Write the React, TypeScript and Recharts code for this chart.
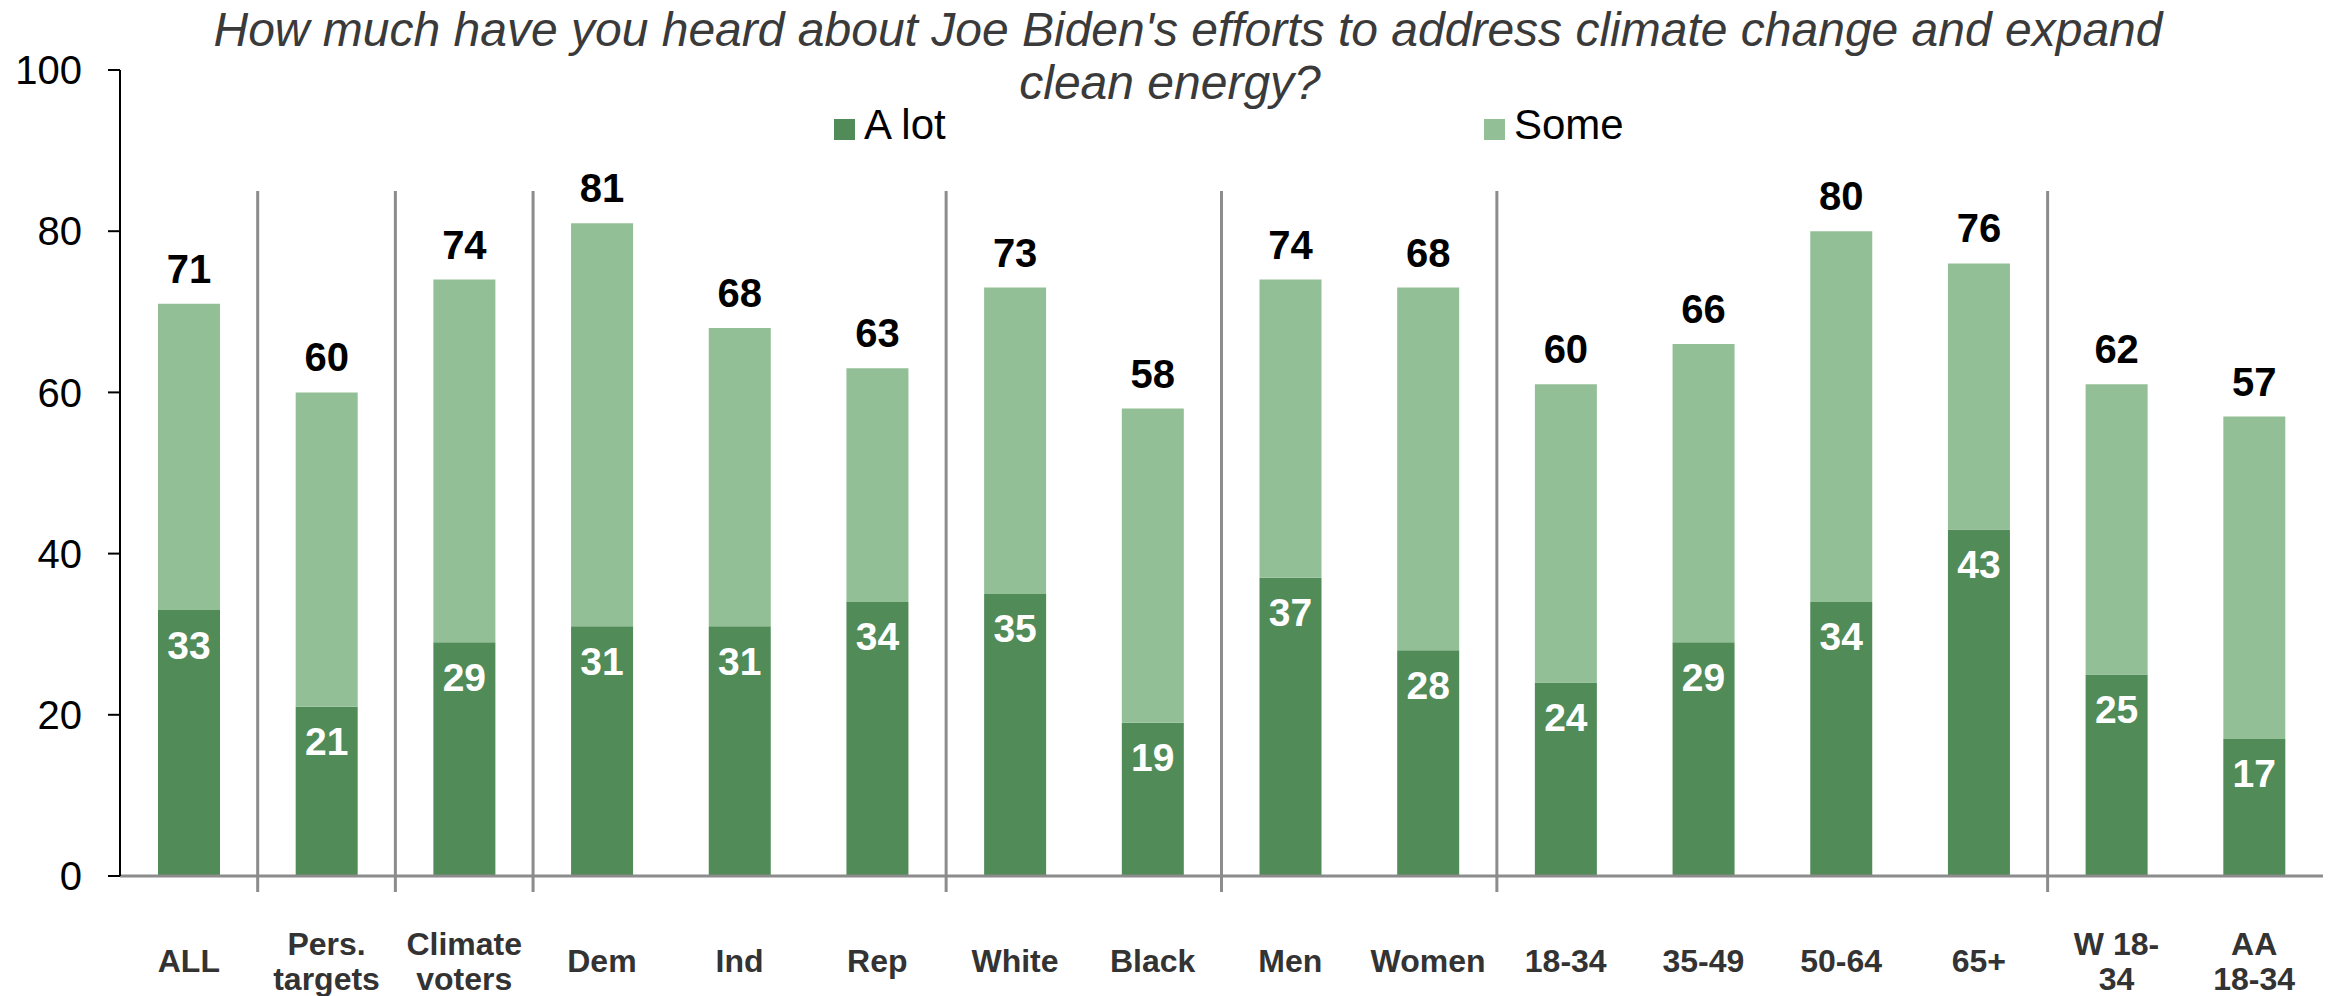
import React from "react";
import {
  BarChart,
  Bar,
  XAxis,
  YAxis,
  ReferenceLine,
  LabelList,
  Legend,
} from "recharts";

const FONT = "'Liberation Sans', Arial, sans-serif";
const DARK = "#518b58";
const LIGHT = "#93bf96";
const SEP = "#8c8c8c";

const groups = [
  "ALL",
  "Pers.\ntargets",
  "Climate\nvoters",
  "Dem",
  "Ind",
  "Rep",
  "White",
  "Black",
  "Men",
  "Women",
  "18-34",
  "35-49",
  "50-64",
  "65+",
  "W 18-\n34",
  "AA\n18-34",
];
const aLot = [33, 21, 29, 31, 31, 34, 35, 19, 37, 28, 24, 29, 34, 43, 25, 17];
const some = [38, 39, 45, 50, 37, 29, 38, 39, 37, 45, 37, 37, 46, 33, 36, 40];
const totals = [71, 60, 74, 81, 68, 63, 73, 58, 74, 68, 60, 66, 80, 76, 62, 57];
// a grey divider is drawn just before each of these groups
const dividerBefore = [1, 2, 3, 6, 8, 10, 14];
const yTicks = [0, 20, 40, 60, 80, 100];
const legendItems = [
  { label: "A lot", color: DARK },
  { label: "Some", color: LIGHT },
];

const data = groups.map((g, i) => ({
  group: g,
  aLot: aLot[i],
  some: some[i],
  total: totals[i],
}));

function GroupTick({ x, y, payload }: any) {
  const lines = String(payload.value).split("\n");
  const lh = 35;
  const first = 96 - ((lines.length - 1) * lh) / 2;
  return (
    <text
      textAnchor="middle"
      fill="#333"
      fontSize={32}
      fontWeight="bold"
      fontFamily={FONT}
    >
      {lines.map((l, i) => (
        <tspan key={i} x={x} y={y + first + i * lh}>
          {l}
        </tspan>
      ))}
    </text>
  );
}

function InsideLabel({ x, y, width, value }: any) {
  return (
    <text
      x={x + width / 2}
      y={y + 35}
      textAnchor="middle"
      dominantBaseline="central"
      fill="#fff"
      fontSize={39}
      fontWeight="bold"
      fontFamily={FONT}
    >
      {value}
    </text>
  );
}

function TotalLabel({ x, y, width, value }: any) {
  return (
    <text
      x={x + width / 2}
      y={y - 21}
      textAnchor="middle"
      fill="#000"
      fontSize={40}
      fontWeight="bold"
      fontFamily={FONT}
    >
      {value}
    </text>
  );
}

function LegendBox() {
  return (
    <div style={{ display: "flex", fontFamily: FONT }}>
      {legendItems.map((it) => (
        <div
          key={it.label}
          style={{ width: 650, display: "flex", alignItems: "center" }}
        >
          <span
            style={{
              width: 21,
              height: 21,
              background: it.color,
              marginRight: 9,
              marginTop: 9,
            }}
          />
          <span style={{ fontSize: 42, color: "#000" }}>{it.label}</span>
        </div>
      ))}
    </div>
  );
}

export default function App() {
  return (
    <div
      style={{
        position: "absolute",
        left: 0,
        top: 0,
        width: 2343,
        height: 996,
        background: "#fff",
      }}
    >
      <div
        style={{
          position: "absolute",
          left: 0,
          top: 3,
          width: 2376,
          textAlign: "center",
          fontFamily: FONT,
          fontStyle: "italic",
          fontSize: 48,
          lineHeight: "53px",
          color: "#3a3a3a",
          zIndex: 2,
          pointerEvents: "none",
        }}
      >
        <div>
          How much have you heard about Joe Biden's efforts to address climate
          change and expand
        </div>
        <div style={{ paddingRight: 36 }}>clean energy?</div>
      </div>
      <BarChart
        width={2343}
        height={996}
        data={data}
        margin={{ top: 70, right: 20, bottom: 0, left: 0 }}
      >
        <XAxis
          dataKey="group"
          interval={0}
          height={120}
          tickLine={false}
          tickSize={0}
          tickMargin={0}
          axisLine={{ stroke: SEP, strokeWidth: 3 }}
          tick={<GroupTick />}
        />
        <YAxis
          width={120}
          domain={[0, 100]}
          ticks={yTicks}
          interval={0}
          tickSize={12}
          tickMargin={26}
          axisLine={{ stroke: "#000", strokeWidth: 2 }}
          tickLine={{ stroke: "#000", strokeWidth: 2 }}
          tick={{ fill: "#000", fontSize: 40, fontFamily: FONT }}
        />
        <Legend
          verticalAlign="middle"
          layout="horizontal"
          content={<LegendBox />}
          wrapperStyle={{ position: "absolute", top: 101, left: 834, width: 1400 }}
        />
        {dividerBefore.map((i) => (
          <ReferenceLine
            key={i}
            segment={[
              { x: groups[i], y: 85 },
              { x: groups[i], y: -2 },
            ]}
            position="start"
            stroke={SEP}
            strokeWidth={3}
            ifOverflow="visible"
          />
        ))}
        <Bar
          dataKey="aLot"
          name="A lot"
          stackId="s"
          fill={DARK}
          barSize={62}
          isAnimationActive={false}
        >
          <LabelList dataKey="aLot" content={<InsideLabel />} />
        </Bar>
        <Bar
          dataKey="some"
          name="Some"
          stackId="s"
          fill={LIGHT}
          barSize={62}
          isAnimationActive={false}
        >
          <LabelList dataKey="total" content={<TotalLabel />} />
        </Bar>
      </BarChart>
    </div>
  );
}
